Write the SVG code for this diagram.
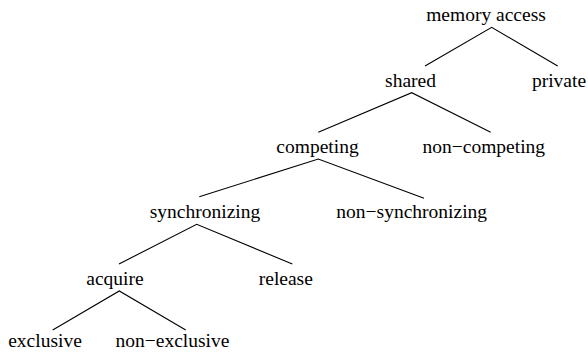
<svg xmlns="http://www.w3.org/2000/svg" width="588" height="356" viewBox="0 0 588 356">
<style>
text{font-family:"Liberation Serif","Times New Roman",serif;font-size:19.5px;fill:#000;text-anchor:middle}
.e{stroke:#000;stroke-width:1.1;fill:none}
</style>
<rect width="588" height="356" fill="#fff"/>
<g id="connectors">
<path class="e" d="M425,66 L491.7,27.3 L557.7,66"/>
<path class="e" d="M318.3,132.3 L411.7,92.7 L490.7,132.3"/>
<path class="e" d="M199.3,196.7 L318.3,159 L424,198.3"/>
<path class="e" d="M119,264 L196.7,224.3 L292.3,264"/>
<path class="e" d="M52.7,330 L119.3,291 L185.7,330"/>
</g>
<g id="memory_access"><text x="486" y="20.7">memory access</text></g>
<g id="shared"><text x="410.5" y="87">shared</text></g>
<g id="private"><text x="559" y="87">private</text></g>
<g id="competing"><text x="317.5" y="153.3">competing</text></g>
<g id="non_competing"><text x="483.8" y="153.3">non−competing</text></g>
<g id="synchronizing"><text x="205" y="218.3">synchronizing</text></g>
<g id="non_synchronizing"><text x="411.7" y="218.3">non−synchronizing</text></g>
<g id="acquire"><text x="115" y="285">acquire</text></g>
<g id="release"><text x="285.8" y="285">release</text></g>
<g id="exclusive"><text x="45" y="347">exclusive</text></g>
<g id="non_exclusive"><text x="172.5" y="347">non−exclusive</text></g>
</svg>
